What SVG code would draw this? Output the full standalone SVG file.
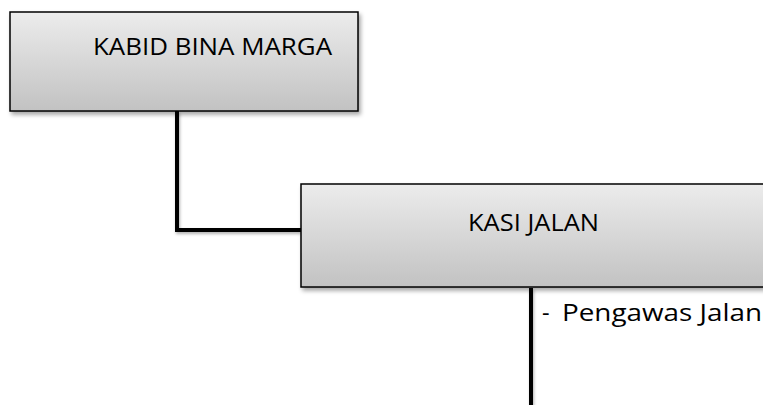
<svg xmlns="http://www.w3.org/2000/svg" width="763" height="405" viewBox="0 0 763 405">
<style>
.box{fill:url(#g);stroke:#000;stroke-width:1.5;filter:url(#sh)}
.lbl{font-family:"Open Sans","Liberation Sans",sans-serif;font-size:23.5px;fill:#000}
.con{fill:#000;filter:url(#sh2)}
</style>
<defs>
<linearGradient id="g" x1="0" y1="0" x2="0" y2="1">
<stop offset="0" stop-color="#ececec"/>
<stop offset="1" stop-color="#c2c2c2"/>
</linearGradient>
<filter id="sh" x="-10%" y="-10%" width="130%" height="140%">
<feDropShadow dx="2" dy="3" stdDeviation="2" flood-color="#000" flood-opacity="0.35"/>
</filter>
<filter id="sh2" filterUnits="userSpaceOnUse" x="0" y="0" width="763" height="405">
<feDropShadow dx="1" dy="2" stdDeviation="1.5" flood-color="#000" flood-opacity="0.3"/>
</filter>
</defs>
<g id="connectors">
<path class="con" d="M175,111 H179 V228 H301 V232 H175 Z"/>
<rect class="con" x="529" y="288" width="4" height="117"/>
</g>
<g id="kabid">
<rect class="box" x="10" y="12" width="348" height="99"/>
<text class="lbl" x="93" y="55" textLength="239" lengthAdjust="spacingAndGlyphs">KABID BINA MARGA</text>
</g>
<g id="kasi">
<rect class="box" x="301" y="184" width="466" height="103"/>
<text class="lbl" x="468" y="231" textLength="131" lengthAdjust="spacingAndGlyphs">KASI JALAN</text>
</g>
<g id="pengawas">
<text class="lbl" x="542" y="321">-</text>
<text class="lbl" x="562" y="321" textLength="200" lengthAdjust="spacingAndGlyphs">Pengawas Jalan</text>
</g>
</svg>
